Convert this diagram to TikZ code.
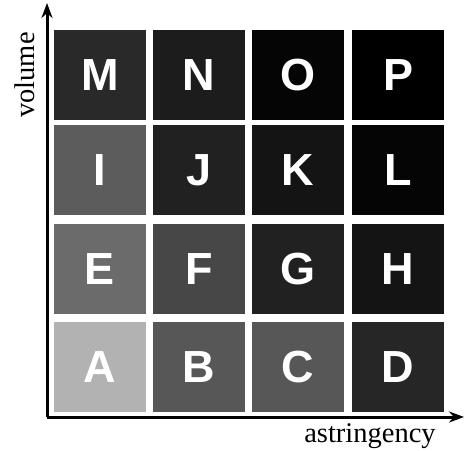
\documentclass[tikz,border=0pt]{standalone}
\usepackage{fontspec}
\setmainfont{Liberation Serif}
\newfontfamily\lettfont{Liberation Sans}
\usetikzlibrary{arrows.meta}
\tikzset{
  cell/.style={minimum width=92pt, minimum height=90pt, inner sep=0pt,
    text=white, font=\lettfont\bfseries\fontsize{45}{45}\selectfont},
  axis/.style={line width=3pt, -{Stealth[length=15pt,width=11pt]}},
  axlabel/.style={font=\fontsize{28.5}{28.5}\selectfont, inner sep=0pt}
}
\begin{document}
\begin{tikzpicture}[x=1pt,y=1pt]
\useasboundingbox (0,0) rectangle (465,450);
% row 4 (top)
\node[cell, fill=black!84] (M) at (100,375) {M};
\node[cell, fill=black!89] (N) at (199,375) {N};
\node[cell, fill=black!98] (O) at (298,375) {O};
\node[cell, fill=black] (P) at (398,375) {P};
% row 3
\node[cell, fill=black!64] (I) at (100,280) {I};
\node[cell, fill=black!87] (J) at (199,280) {J};
\node[cell, fill=black!92] (K) at (298,280) {K};
\node[cell, fill=black!98] (L) at (398,280) {L};
% row 2
\node[cell, fill=black!58] (E) at (100,181) {E};
\node[cell, fill=black!72] (F) at (199,181) {F};
\node[cell, fill=black!87] (G) at (298,181) {G};
\node[cell, fill=black!92] (H) at (398,181) {H};
% row 1
\node[cell, fill=black!30] (A) at (100,83) {A};
\node[cell, fill=black!66] (B) at (199,83) {B};
\node[cell, fill=black!66] (C) at (298,83) {C};
\node[cell, fill=black!85] (D) at (398,83) {D};
% axes
\coordinate (O0) at (47,33);
\coordinate (Ytip) at (47,447);
\coordinate (Xtip) at (464,33);
\draw[axis] (O0) -- (Ytip);
\draw[axis] (O0) -- (Xtip);
\node[axlabel, rotate=90] (vol) at (25,375) {volume};
\node[axlabel] (ast) at (370,14) {astringency};
\end{tikzpicture}
\end{document}
